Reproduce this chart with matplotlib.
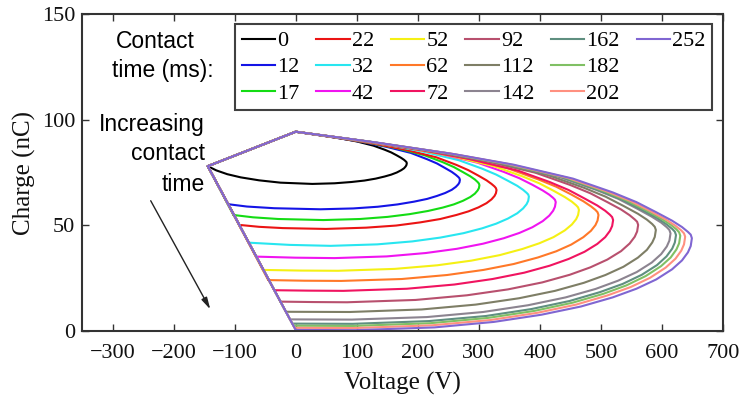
import matplotlib
matplotlib.use('Agg')
import matplotlib.pyplot as plt
from matplotlib.lines import Line2D

contact_times = ['0', '12', '17', '22', '32', '42', '52', '62', '72',
                 '92', '112', '142', '162', '182', '202', '252']

# Each loop: lower branch from the left edge to the tip, then upper branch back to (0, 94.3)
v_0 = [-144, -130, -112, -90, -60, -25, 27.3, 63.7, 91, 112.8, 131, 145.6, 156.5, 165.6, 172.9, 177.5, 180.2, 181.5, 182,
       181.5, 180.2, 177.5, 172.9, 165.6, 156.5, 145.6, 127.4, 100.1, 72.8, 36.4, 0]
q_0 = [78, 76.0, 74.2, 72.7, 71.3, 70.2, 69.6, 69.9, 70.5, 71.2, 72.1, 73.1, 74.0, 75.0, 76.1, 77.0, 77.9, 78.6, 79.4,
       79.9, 80.3, 81.0, 81.9, 83.1, 84.5, 85.8, 87.7, 89.7, 91.2, 92.8, 94.3]
v_12 = [-110.5, -80, -35, 40.4, 94.2, 134.5, 166.8, 193.7, 215.2, 231.3, 244.8, 255.6, 262.3, 266.3, 268.2, 269,
        268.2, 266.3, 262.3, 255.6, 244.8, 231.3, 215.2, 188.3, 148, 107.6, 53.8, 0]
q_12 = [60, 58.9, 58.1, 57.6, 58.0, 58.8, 59.9, 61.2, 62.5, 63.9, 65.3, 66.8, 68.2, 69.4, 70.3, 71.5,
        72.3, 72.9, 73.9, 75.3, 77.1, 79.3, 81.3, 84.3, 87.2, 89.5, 92.0, 94.3]
v_17 = [-102, -70, -28.4, 45.2, 105.4, 150.5, 186.6, 216.7, 240.8, 258.9, 273.9, 286, 293.5, 298, 300.1, 301,
        300.1, 298, 293.5, 286, 273.9, 258.9, 240.8, 210.7, 165.6, 120.4, 60.2, 0]
q_17 = [54.9, 53.8, 53.0, 52.5, 53.0, 54.0, 55.3, 56.8, 58.4, 59.9, 61.6, 63.4, 65.0, 66.5, 67.6, 69,
        69.8, 70.5, 71.7, 73.2, 75.2, 77.6, 79.9, 83.2, 86.5, 89.0, 91.8, 94.3]
v_22 = [-92, -60, -21.3, 49.4, 115.2, 164.5, 204, 236.9, 263.2, 282.9, 299.4, 312.6, 320.8, 325.7, 328, 329,
        328, 325.7, 320.8, 312.6, 299.4, 282.9, 263.2, 230.3, 181, 131.6, 65.8, 0]
q_22 = [50.2, 49.3, 48.7, 48.3, 48.9, 49.9, 51.4, 53.0, 54.9, 56.6, 58.5, 60.5, 62.3, 63.9, 65.2, 66.7,
        67.6, 68.4, 69.6, 71.3, 73.5, 76.1, 78.6, 82.2, 85.7, 88.5, 91.5, 94.3]
v_32 = [-77, -9.9, 57.3, 133.7, 191, 236.8, 275, 305.6, 328.5, 347.6, 362.9, 372.5, 378.2, 380.9, 382,
        380.9, 378.2, 372.5, 362.9, 347.6, 328.5, 305.6, 267.4, 210.1, 152.8, 76.4, 0]
q_32 = [41.8, 40.75, 40.3, 41.0, 42.4, 44.2, 46.3, 48.6, 50.8, 53.2, 55.7, 58.0, 60.0, 61.6, 63.6,
        64.6, 65.4, 66.8, 68.7, 71.1, 74.0, 76.8, 80.8, 84.8, 87.9, 91.2, 94.3]
v_42 = [-65, -0.5, 63.9, 149.1, 213, 264.1, 306.7, 340.8, 366.4, 387.7, 404.7, 415.4, 421.7, 424.7, 426,
        424.7, 421.7, 415.4, 404.7, 387.7, 366.4, 340.8, 298.2, 234.3, 170.4, 85.2, 0]
q_42 = [35.2, 34.7, 34.5, 35.3, 36.9, 38.9, 41.3, 43.9, 46.4, 49.1, 52.0, 54.6, 56.9, 58.8, 61.0,
        62.1, 63.0, 64.5, 66.5, 69.2, 72.3, 75.3, 79.6, 84.0, 87.3, 91.0, 94.3]
v_52 = [-53, 8.3, 69.6, 162.4, 232, 287.7, 334.1, 371.2, 399, 422.2, 440.8, 452.4, 459.4, 462.6, 464,
        462.6, 459.4, 452.4, 440.8, 422.2, 399, 371.2, 324.8, 255.2, 185.6, 92.8, 0]
q_52 = [28.9, 28.6, 28.5, 29.4, 31.1, 33.3, 35.9, 38.8, 41.5, 44.4, 47.6, 50.4, 52.9, 54.9, 57.3,
        58.5, 59.5, 61.2, 63.4, 66.4, 69.9, 73.2, 78.0, 82.8, 86.5, 90.6, 94.3]
v_62 = [-45, 14.7, 74.4, 173.6, 248, 307.5, 357.1, 396.8, 426.6, 451.4, 471.2, 483.6, 491, 494.5, 496,
        494.5, 491, 483.6, 471.2, 451.4, 426.6, 396.8, 347.2, 272.8, 198.4, 99.2, 0]
q_62 = [24.1, 23.8, 23.7, 24.6, 26.5, 28.9, 31.7, 34.8, 37.7, 40.9, 44.4, 47.4, 50.1, 52.3, 54.9,
        56.2, 57.3, 59.0, 61.4, 64.6, 68.3, 71.8, 77.0, 82.1, 86.0, 90.4, 94.3]
v_72 = [-35, 21.5, 78, 182, 260, 322.4, 374.4, 416, 447.2, 473.2, 494, 507, 514.8, 518.4, 520,
        518.4, 514.8, 507, 494, 473.2, 447.2, 416, 364, 286, 208, 104, 0]
q_72 = [19.3, 19.1, 19.0, 20.0, 22.0, 24.6, 27.6, 30.9, 34.1, 37.5, 41.2, 44.4, 47.4, 49.7, 52.5,
        53.9, 55.0, 56.9, 59.4, 62.7, 66.7, 70.5, 75.9, 81.3, 85.5, 90.1, 94.3]
v_92 = [-25, 29.6, 84.2, 196.4, 280.5, 347.8, 403.9, 448.8, 482.5, 510.5, 533, 547, 555.4, 559.3, 561,
        559.3, 555.4, 547, 533, 510.5, 482.5, 448.8, 392.7, 308.6, 224.4, 112.2, 0]
q_92 = [13.9, 13.7, 13.6, 14.7, 16.9, 19.7, 23.0, 26.6, 30.1, 33.8, 37.8, 41.4, 44.6, 47.1, 50.2,
        51.7, 52.8, 54.8, 57.5, 61.0, 65.2, 69.2, 74.9, 80.6, 85.0, 89.9, 94.3]
v_112 = [-16, 88.5, 206.5, 295, 365.8, 424.8, 472, 507.4, 536.9, 560.5, 575.3, 584.1, 588.2, 590,
         588.2, 584.1, 575.3, 560.5, 536.9, 507.4, 472, 413, 324.5, 236, 118, 0]
q_112 = [9.1, 9.0, 10.2, 12.5, 15.5, 19.0, 22.8, 26.5, 30.4, 34.7, 38.4, 41.9, 44.5, 47.8,
         49.3, 50.6, 52.7, 55.5, 59.2, 63.6, 67.8, 73.8, 79.9, 84.5, 89.7, 94.3]
v_142 = [-9.3, 92.1, 214.9, 307, 380.7, 442.1, 491.2, 528, 558.7, 583.3, 598.7, 607.9, 612.2, 614,
         612.2, 607.9, 598.7, 583.3, 558.7, 528, 491.2, 429.8, 337.7, 245.6, 122.8, 0]
q_142 = [5.5, 5.4, 6.6, 9.0, 12.2, 15.9, 19.9, 23.8, 27.9, 32.4, 36.4, 40.0, 42.8, 46.2,
         47.8, 49.1, 51.3, 54.1, 58.0, 62.6, 66.9, 73.1, 79.4, 84.2, 89.5, 94.3]
v_162 = [-5.6, 93.5, 218, 311.5, 386.3, 448.6, 498.4, 535.8, 566.9, 591.9, 607.4, 616.8, 621.1, 623,
         621.1, 616.8, 607.4, 591.9, 566.9, 535.8, 498.4, 436.1, 342.7, 249.2, 124.6, 0]
q_162 = [3.5, 3.4, 4.7, 7.1, 10.4, 14.2, 18.4, 22.3, 26.6, 31.2, 35.3, 39.0, 41.9, 45.4,
         47.0, 48.3, 50.5, 53.5, 57.4, 62.0, 66.4, 72.8, 79.1, 84.0, 89.4, 94.3]
v_182 = [-3.7, 94.5, 220.5, 315, 390.6, 453.6, 504, 541.8, 573.3, 598.5, 614.3, 623.7, 628.1, 630,
         628.1, 623.7, 614.3, 598.5, 573.3, 541.8, 504, 441, 346.5, 252, 126, 0]
q_182 = [2.5, 2.4, 3.7, 6.2, 9.5, 13.4, 17.6, 21.6, 26.0, 30.7, 34.8, 38.6, 41.5, 45.1,
         46.7, 48.1, 50.3, 53.2, 57.2, 61.8, 66.3, 72.7, 79.0, 84.0, 89.4, 94.3]
v_202 = [-1.9, 95.7, 223.3, 319, 395.6, 459.4, 510.4, 548.7, 580.6, 606.1, 622.1, 631.6, 636.1, 638,
         636.1, 631.6, 622.1, 606.1, 580.6, 548.7, 510.4, 446.6, 350.9, 255.2, 127.6, 0]
q_202 = [1.5, 1.4, 2.7, 5.2, 8.6, 12.5, 16.8, 20.8, 25.2, 30.0, 34.2, 38.0, 41.0, 44.6,
         46.2, 47.6, 49.8, 52.8, 56.8, 61.5, 66.0, 72.4, 78.9, 83.9, 89.3, 94.3]
v_252 = [0, 97.4, 227.2, 324.5, 402.4, 467.3, 519.2, 558.1, 590.6, 616.6, 632.8, 642.5, 647.1, 649,
         647.1, 642.5, 632.8, 616.6, 590.6, 558.1, 519.2, 454.3, 357, 259.6, 129.8, 0]
q_252 = [0.5, 0.4, 1.7, 4.3, 7.7, 11.6, 15.9, 20.0, 24.4, 29.2, 33.4, 37.2, 40.2, 43.9,
         45.6, 46.9, 49.2, 52.2, 56.2, 61.0, 65.6, 72.1, 78.7, 83.7, 89.3, 94.3]

# shared left corner of all loops
corner_v = [-144]
corner_q = [78]

curves_v = [v_0, v_12, v_17, v_22, v_32, v_42, v_52, v_62, v_72, v_92, v_112, v_142, v_162, v_182, v_202, v_252]
curves_q = [q_0, q_12, q_17, q_22, q_32, q_42, q_52, q_62, q_72, q_92, q_112, q_142, q_162, q_182, q_202, q_252]

colors = ['#000000', '#1414E6', '#14DC14', '#EB1414', '#28E6F0', '#F014F0', '#F5F014',
          '#FF7828', '#F01460', '#B8506E', '#7E7E66', '#8C8490', '#5F8F80', '#80C064',
          '#FF9080', '#8066D2']

fig = plt.figure(figsize=(7.43, 3.99), dpi=100)
ax = fig.add_axes([0.1104, 0.1704, 0.8627, 0.7945])

for v, q, c in zip(curves_v, curves_q, colors):
    ax.plot(v + corner_v + [v[0]], q + corner_q + [q[0]], color=c, lw=1.5,
            solid_joinstyle='round', solid_capstyle='round')

ax.set_xlim(-350, 700)
ax.set_ylim(0, 150)
ax.set_xticks(list(range(-300, 701, 100)))
ax.set_yticks([0, 50, 100, 150])
for lab in ax.get_xticklabels() + ax.get_yticklabels():
    lab.set_fontfamily('Liberation Serif')
ax.tick_params(direction='in', top=True, right=True, length=5, width=1,
               labelsize=16, color='#333333', labelcolor='#111111')
ax.tick_params(axis='x', pad=9.5)
ax.tick_params(axis='y', pad=5)
for s in ax.spines.values():
    s.set_color('#333333')
    s.set_linewidth(1.5)

ax.set_xlabel('Voltage (V)', fontfamily='Liberation Serif', fontsize=18, labelpad=6, color='#111111')
ax.set_ylabel('Charge (nC)', fontfamily='Liberation Serif', fontsize=18, labelpad=4, color='#111111')

handles = [Line2D([], [], color=c, lw=1.5) for c in colors]
handles += [Line2D([], [], color='none'), Line2D([], [], color='none')]
labels = contact_times + ['', '']
leg = ax.legend(handles, labels, ncol=6, loc='upper right', bbox_to_anchor=(0.983, 0.968),
                prop={'family': 'Liberation Serif', 'size': 16}, handlelength=1.5,
                handletextpad=0.1, columnspacing=0.75, labelspacing=0.25, borderpad=0.3,
                borderaxespad=0, frameon=True, fancybox=False, edgecolor='#404040',
                framealpha=1)
leg.get_frame().set_linewidth(1.5)

sans = 'Liberation Sans'
ax.text(-294, 136.8, 'Contact', fontfamily=sans, fontsize=16.5, va='center', ha='left')
ax.text(-300.7, 123.5, 'time (ms):', fontfamily=sans, fontsize=16.5, va='center', ha='left')

ax.text(-149, 97.5, 'Increasing', fontfamily=sans, fontsize=16.5, va='center', ha='right')
ax.text(-149, 84.1, 'contact', fontfamily=sans, fontsize=16.5, va='center', ha='right')
ax.text(-149, 69.1, 'time', fontfamily=sans, fontsize=16.5, va='center', ha='right')

ax.annotate('', xy=(-137.7, 9.1), xytext=(-239.7, 62.8),
            arrowprops=dict(arrowstyle='-|>,head_length=0.7,head_width=0.18',
                            color='#222222', lw=1.0))

fig.savefig('out.png', dpi=100)
